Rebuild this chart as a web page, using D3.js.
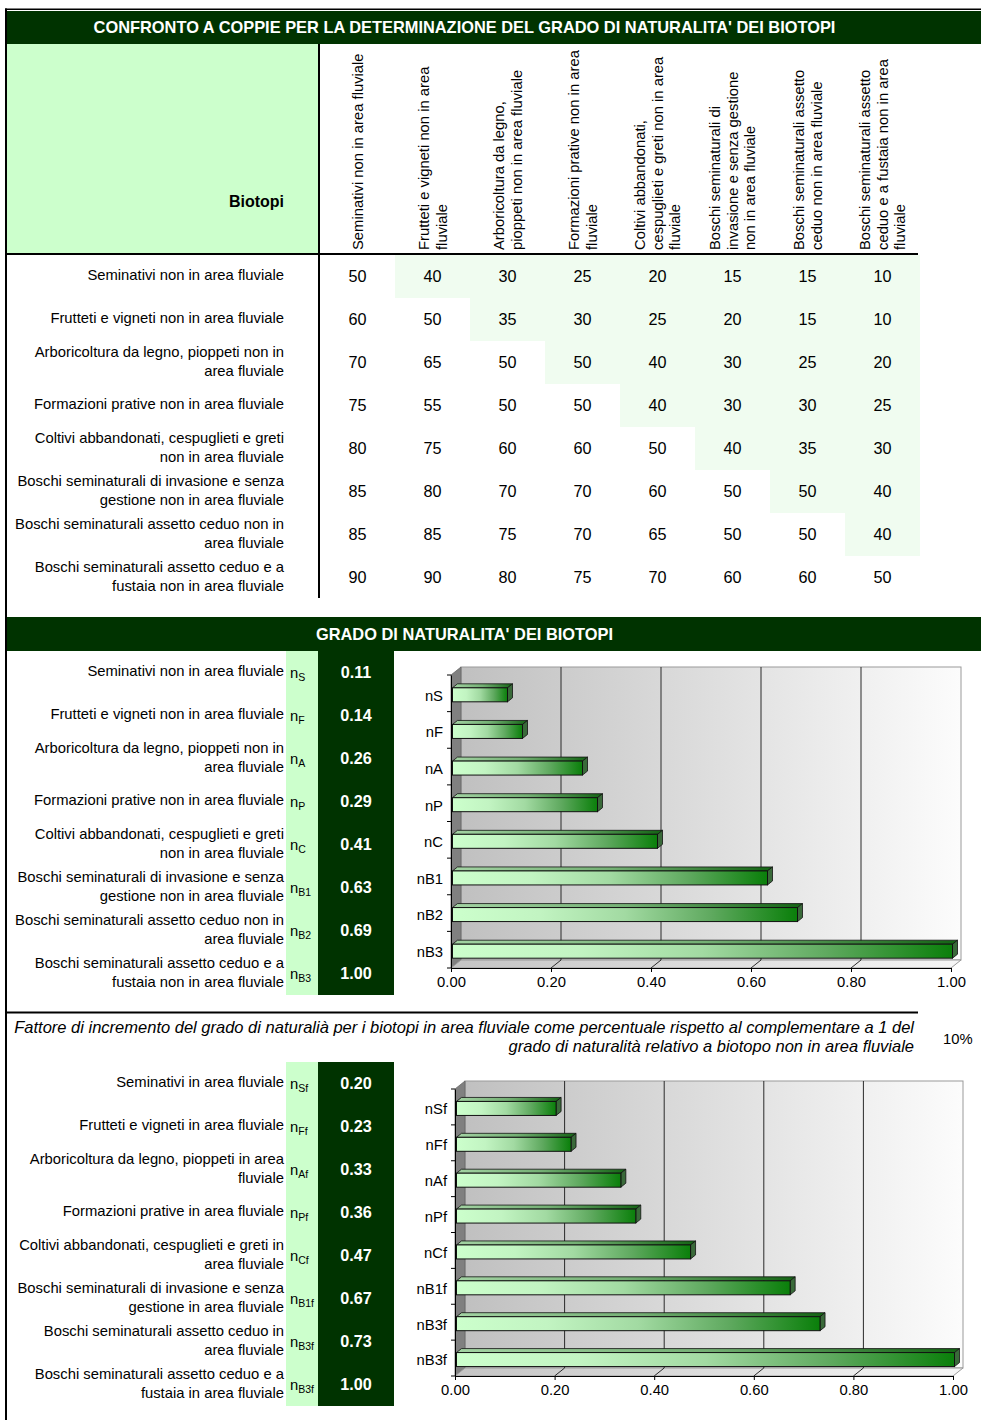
<!DOCTYPE html>
<html><head><meta charset="utf-8">
<script src="https://cdn.jsdelivr.net/npm/d3@7"></script>
<style>
body{margin:0;background:#fff}
svg{display:block;font-family:"Liberation Sans",Arial,Helvetica,sans-serif}
</style>
</head><body><div id="chart"></div>
<script>
// ---------------- DATA ----------------
const title1 = "CONFRONTO A COPPIE PER LA DETERMINAZIONE DEL GRADO DI NATURALITA' DEI BIOTOPI";
const title2 = "GRADO DI NATURALITA' DEI BIOTOPI";
const headerLabel = "Biotopi";
const columnHeaders = [
  ["Seminativi non in area fluviale"],
  ["Frutteti e vigneti non in area", "fluviale"],
  ["Arboricoltura da legno,", "pioppeti non in area fluviale"],
  ["Formazioni prative non in area", "fluviale"],
  ["Coltivi abbandonati,", "cespuglieti e greti non in area", "fluviale"],
  ["Boschi seminaturali di", "invasione e senza gestione", "non in area fluviale"],
  ["Boschi seminaturali assetto", "ceduo non in area fluviale"],
  ["Boschi seminaturali assetto", "ceduo e a fustaia non in area", "fluviale"]
];
const rowLabels = [
  ["Seminativi non in area fluviale"],
  ["Frutteti e vigneti non in area fluviale"],
  ["Arboricoltura da legno, pioppeti non in", "area fluviale"],
  ["Formazioni prative non in area fluviale"],
  ["Coltivi abbandonati, cespuglieti e greti", "non in area fluviale"],
  ["Boschi seminaturali di invasione e senza", "gestione non in area fluviale"],
  ["Boschi seminaturali assetto ceduo non in", "area fluviale"],
  ["Boschi seminaturali assetto ceduo e a", "fustaia non in area fluviale"]
];
const pairMatrix = [
  [50, 40, 30, 25, 20, 15, 15, 10],
  [60, 50, 35, 30, 25, 20, 15, 10],
  [70, 65, 50, 50, 40, 30, 25, 20],
  [75, 55, 50, 50, 40, 30, 30, 25],
  [80, 75, 60, 60, 50, 40, 35, 30],
  [85, 80, 70, 70, 60, 50, 50, 40],
  [85, 85, 75, 70, 65, 50, 50, 40],
  [90, 90, 80, 75, 70, 60, 60, 50]
];
const naturalSymbols = ["S", "F", "A", "P", "C", "B1", "B2", "B3"];
const naturalValues = [0.11, 0.14, 0.26, 0.29, 0.41, 0.63, 0.69, 1.00];
const chart1Categories = ["nS", "nF", "nA", "nP", "nC", "nB1", "nB2", "nB3"];
const noteLines = [
  "Fattore di incremento del grado di naturalià per i biotopi in area fluviale come percentuale rispetto al complementare a 1 del",
  "grado di naturalità relativo a biotopo non in area fluviale"
];
const incrementFactor = "10%";
const fluvialLabels = [
  ["Seminativi in area fluviale"],
  ["Frutteti e vigneti in area fluviale"],
  ["Arboricoltura da legno, pioppeti in area", "fluviale"],
  ["Formazioni prative in area fluviale"],
  ["Coltivi abbandonati, cespuglieti e greti in", "area fluviale"],
  ["Boschi seminaturali di invasione e senza", "gestione in area fluviale"],
  ["Boschi seminaturali assetto ceduo in", "area fluviale"],
  ["Boschi seminaturali assetto ceduo e a", "fustaia in area fluviale"]
];
const fluvialSymbols = ["Sf", "Ff", "Af", "Pf", "Cf", "B1f", "B3f", "B3f"];
const fluvialValues = [0.20, 0.23, 0.33, 0.36, 0.47, 0.67, 0.73, 1.00];
const chart2Categories = ["nSf", "nFf", "nAf", "nPf", "nCf", "nB1f", "nB3f", "nB3f"];
const xTickValues = [0, 0.2, 0.4, 0.6, 0.8, 1.0];

// ---------------- DRAWING ----------------
const W = 981, H = 1420;
const GREEN = "#003300", LIGHT = "#ccffcc", SHADE = "#f0fcf0";
const FS = 14.8;
const svg = d3.select("#chart").append("svg").attr("width", W).attr("height", H);
const defs = svg.append("defs");
function lin(id, stops) {
  const g = defs.append("linearGradient").attr("id", id).attr("x1", 0).attr("x2", 1).attr("y1", 0).attr("y2", 0);
  stops.forEach(s => g.append("stop").attr("offset", s[0]).attr("stop-color", s[1]));
}
lin("barFront", [[0, "#ccffcc"], [0.25, "#c2f4c2"], [0.5, "#a2daa2"], [0.75, "#5fa95f"], [1, "#0a7f0a"]]);
lin("barTop", [[0, "#a3d3a3"], [0.5, "#74b074"], [1, "#146414"]]);
lin("wallGrad", [[0, "#c0c0c0"], [1, "#fcfcfc"]]);
lin("floorGrad", [[0, "#c4c4c4"], [1, "#f6f6f6"]]);

// frame
svg.append("rect").attr("x", 5).attr("y", 8.5).attr("width", W - 5).attr("height", 1.5).attr("fill", "#000");
svg.append("rect").attr("x", 5).attr("y", 8.5).attr("width", 2).attr("height", H).attr("fill", "#000");

function titleBar(y, h, txt) {
  svg.append("rect").attr("x", 7).attr("y", y).attr("width", W - 7).attr("height", h).attr("fill", GREEN);
  svg.append("text").attr("x", 464.5).attr("y", y + h / 2 + 5.8).attr("text-anchor", "middle")
    .attr("fill", "#fff").attr("font-weight", "bold").attr("font-size", 16.4).text(txt);
}
function multiLine(x, yc, lines, opts) {
  const lh = opts.lh || 18.5;
  const fs = opts.fs || FS;
  const t = svg.append("text").attr("x", x).attr("text-anchor", opts.anchor || "end")
    .attr("font-size", fs).attr("fill", "#000");
  if (opts.italic) t.attr("font-style", "italic");
  lines.forEach((l, j) => {
    t.append("tspan").attr("x", x).attr("y", yc + (j - (lines.length - 1) / 2) * lh + fs * 0.33).text(l);
  });
}

// ----- Section 1 -----
titleBar(11, 33, title1);
svg.append("rect").attr("x", 7).attr("y", 44).attr("width", 311).attr("height", 210).attr("fill", LIGHT);
svg.append("text").attr("x", 284).attr("y", 207).attr("text-anchor", "end").attr("font-weight", "bold")
  .attr("font-size", 16).text(headerLabel);

const colX = d3.scaleBand().domain(d3.range(columnHeaders.length)).range([320, 920]);
const rowY = d3.scaleBand().domain(d3.range(rowLabels.length)).range([255, 599]);

// shaded upper triangle
pairMatrix.forEach((row, r) => row.forEach((v, c) => {
  if (c > r) svg.append("rect").attr("x", colX(c)).attr("y", rowY(r))
    .attr("width", colX.bandwidth()).attr("height", rowY.bandwidth()).attr("fill", SHADE);
}));

// rotated column headers
columnHeaders.forEach((lines, c) => {
  const cx = colX(c) + colX.bandwidth() / 2;
  lines.forEach((l, j) => {
    const lx = cx + (j - (lines.length - 1) / 2) * 17.5 + 5.3;
    svg.append("text").attr("transform", `translate(${lx},250) rotate(-90)`)
      .attr("font-size", FS).attr("text-anchor", "start").text(l);
  });
});

// grid lines
svg.append("rect").attr("x", 318).attr("y", 44).attr("width", 2).attr("height", 554).attr("fill", "#000");
svg.append("rect").attr("x", 7).attr("y", 253).attr("width", 911).attr("height", 2).attr("fill", "#000");

// values
pairMatrix.forEach((row, r) => row.forEach((v, c) => {
  svg.append("text").attr("x", colX(c) + colX.bandwidth() / 2).attr("y", rowY(r) + rowY.bandwidth() / 2 + 5.6)
    .attr("text-anchor", "middle").attr("font-size", 16.2).text(v);
}));
rowLabels.forEach((lines, r) => multiLine(284, rowY(r) + rowY.bandwidth() / 2 - 1, lines, {}));

// ----- value table helper -----
function valueTable(y0, y1, labels, syms, vals) {
  const ry = d3.scaleBand().domain(d3.range(labels.length)).range([y0, y1]);
  svg.append("rect").attr("x", 286).attr("y", y0).attr("width", 32).attr("height", y1 - y0).attr("fill", LIGHT);
  svg.append("rect").attr("x", 318).attr("y", y0).attr("width", 76).attr("height", y1 - y0).attr("fill", GREEN);
  labels.forEach((lines, i) => {
    const yc = ry(i) + ry.bandwidth() / 2;
    multiLine(284, yc - 1, lines, {});
    const t = svg.append("text").attr("x", 290).attr("y", yc + 5).attr("font-size", FS);
    t.append("tspan").text("n");
    t.append("tspan").attr("font-size", 10.5).attr("dy", 3.5).text(syms[i]);
    svg.append("text").attr("x", 356).attr("y", yc + 5.6).attr("text-anchor", "middle")
      .attr("fill", "#fff").attr("font-weight", "bold").attr("font-size", 16.2).text(d3.format(".2f")(vals[i]));
  });
}

// ----- 3D bar chart helper -----
function bar3D(cats, vals, cfg) {
  const { x0, x1, top, axis } = cfg;
  const dx = 10, dy = -8, bdx = 5, bdy = -4, bh = 14;
  const g = svg.append("g");
  const x = d3.scaleLinear().domain([0, 1]).range([x0, x1]);
  const y = d3.scaleBand().domain(d3.range(cats.length)).range([top, axis]);
  // back wall
  g.append("rect").attr("x", x(0) + dx).attr("y", top + dy).attr("width", x(1) - x(0)).attr("height", axis - top)
    .attr("fill", "url(#wallGrad)").attr("stroke", "#9a9a9a").attr("stroke-width", 1);
  // side wall
  g.append("path").attr("d", `M${x(0)},${top}L${x(0) + dx},${top + dy}L${x(0) + dx},${axis + dy}L${x(0)},${axis}Z`)
    .attr("fill", "#808080").attr("stroke", "#666").attr("stroke-width", 0.8);
  // floor
  g.append("path").attr("d", `M${x(0)},${axis}L${x(1)},${axis}L${x(1) + dx},${axis + dy}L${x(0) + dx},${axis + dy}Z`)
    .attr("fill", "url(#floorGrad)").attr("stroke", "#9a9a9a").attr("stroke-width", 1);
  // gridlines
  xTickValues.filter(t => t > 0 && t < 1).forEach(t => {
    g.append("line").attr("x1", x(t) + dx).attr("x2", x(t) + dx).attr("y1", top + dy).attr("y2", axis + dy)
      .attr("stroke", "#2a2a2a").attr("stroke-width", 1);
    g.append("line").attr("x1", x(t)).attr("x2", x(t) + dx).attr("y1", axis).attr("y2", axis + dy)
      .attr("stroke", "#2a2a2a").attr("stroke-width", 1);
  });
  // bars
  vals.forEach((v, i) => {
    const yc = y(i) + y.bandwidth() / 2 + 1.5;
    const yT = yc - bh / 2, yB = yc + bh / 2;
    const xl = x(0) + 1.5, xr = x(v) + 1.5;
    g.append("path").attr("d", `M${xl},${yT}L${xl + bdx},${yT + bdy}L${xr + bdx},${yT + bdy}L${xr},${yT}Z`)
      .attr("fill", "url(#barTop)").attr("stroke", "#111").attr("stroke-width", 0.8);
    g.append("path").attr("d", `M${xr},${yT}L${xr + bdx},${yT + bdy}L${xr + bdx},${yB + bdy}L${xr},${yB}Z`)
      .attr("fill", "#3a6a3a").attr("stroke", "#111").attr("stroke-width", 0.8);
    g.append("rect").attr("x", xl).attr("y", yT).attr("width", xr - xl).attr("height", bh)
      .attr("fill", "url(#barFront)").attr("stroke", "#111").attr("stroke-width", 1);
  });
  // axes
  const ax = g.append("g").attr("transform", `translate(0,${axis})`)
    .call(d3.axisBottom(x).tickValues(xTickValues).tickFormat(d3.format(".2f")).tickSize(4).tickSizeOuter(0).tickPadding(4));
  const ay = g.append("g").attr("transform", `translate(${x0},0)`)
    .call(d3.axisLeft(y).tickSize(0).tickSizeOuter(0).tickPadding(8).tickFormat(i => cats[i]));
  [ax, ay].forEach(a => {
    a.attr("font-family", null).attr("font-size", null);
    a.selectAll("text").attr("font-size", FS).attr("fill", "#000");
    a.selectAll("path,line").attr("stroke", "#000");
  });
  ay.selectAll("text").attr("dy", "0.5em");
  d3.range(cats.length + 1).forEach(i => {
    const yy = top + i * y.step();
    g.append("line").attr("x1", x0 - 4).attr("x2", x0).attr("y1", yy).attr("y2", yy).attr("stroke", "#000");
  });
}

// ----- Section 2 -----
titleBar(617, 34, title2);
valueTable(651, 995, rowLabels, naturalSymbols, naturalValues);
bar3D(chart1Categories, naturalValues, { x0: 451, x1: 951, top: 675, axis: 968 });

// ----- Section 3 -----
svg.append("rect").attr("x", 7).attr("y", 1011.5).attr("width", 911).attr("height", 2).attr("fill", "#000");
multiLine(914, 1037.5, noteLines, { italic: true, fs: 16.5, lh: 19 });
svg.append("text").attr("x", 943).attr("y", 1044).attr("font-size", FS).text(incrementFactor);
valueTable(1062, 1406, fluvialLabels, fluvialSymbols, fluvialValues);
bar3D(chart2Categories, fluvialValues, { x0: 455, x1: 953, top: 1089, axis: 1376 });
</script>
</body></html>
